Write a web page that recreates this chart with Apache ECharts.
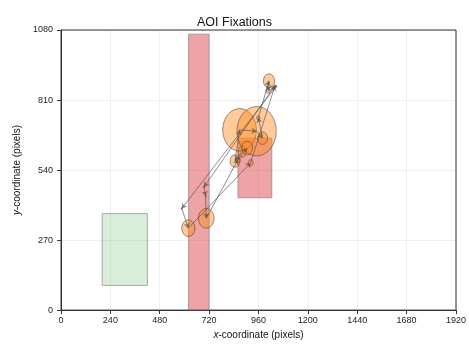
<!DOCTYPE html>
<html>
<head>
<meta charset="utf-8">
<script src="https://cdn.jsdelivr.net/npm/echarts@6/dist/echarts.min.js"></script>
<style>html,body{margin:0;padding:0;background:#fff}#c{width:469px;height:345px}</style>
</head>
<body>
<div id="c"></div>
<script>
// Tick labels
const xTicks = [0, 240, 480, 720, 960, 1200, 1440, 1680, 1920];
const yTicks = [0, 270, 540, 810, 1080];

// AOI rectangles (data coords)
const aoiX0 = [620, 200, 860];
const aoiX1 = [720, 420, 1025];
const aoiY0 = [0, 95, 433];
const aoiY1 = [1064, 372, 663];
const aoiKind = ['red', 'green', 'red'];

// Fixations (scanpath order): x, y, radius (data units)
const fixX = [880, 846, 868, 951, 980, 959, 1011, 1006, 1045, 587, 619, 922, 1040, 695, 703, 706, 860, 905];
const fixY = [610, 575, 695, 690, 663, 741, 884, 846, 862, 392, 316, 568, 865, 475, 440, 354, 580, 625];
const fixR = [20, 24, 82, 95, 24, 8, 27, 10, 4, 3, 32, 12, 4, 3, 3, 38, 10, 26];

const aoiColors = {
  red: {fill: 'rgba(214,39,40,0.42)', stroke: 'rgba(120,120,120,0.6)'},
  green: {fill: 'rgba(44,160,44,0.18)', stroke: 'rgba(120,120,120,0.6)'}
};

const aoiData = aoiX0.map((x0, i) => [x0, aoiY0[i], aoiX1[i], aoiY1[i], i]);
const fixData = fixX.map((x, i) => [x, fixY[i], fixR[i]]);
const segs = [];
for (let i = 0; i < fixX.length - 1; i++) {
  segs.push({coords: [[fixX[i], fixY[i]], [fixX[i + 1], fixY[i + 1]]]});
}

const chart = echarts.init(document.getElementById('c'));
chart.setOption({
  animation: false,
  title: {
    text: 'AOI Fixations', left: 'center', top: 11,
    textStyle: {fontSize: 12.5, fontWeight: 'normal', color: '#111', fontFamily: 'Liberation Sans'}
  },
  grid: {left: 61, right: 13, top: 30, bottom: 30, show: true, borderColor: '#333', borderWidth: 1},
  xAxis: {
    type: 'value', min: 0, max: 1920, interval: 240,
    name: '{i|x}-coordinate (pixels)', nameLocation: 'middle', nameGap: 19,
    nameTextStyle: {fontSize: 10, color: '#111', fontFamily: 'Liberation Sans', rich: {i: {fontStyle: 'italic', fontSize: 10, color: '#111', fontFamily: 'Liberation Sans'}}},
    axisLine: {show: true, lineStyle: {color: '#333'}},
    axisTick: {show: true, length: 4, lineStyle: {color: '#333'}},
    axisLabel: {fontSize: 9, color: '#222', margin: 6, fontFamily: 'Liberation Sans', formatter: v => xTicks.includes(v) ? String(v) : ''},
    splitLine: {show: true, lineStyle: {color: 'rgba(0,0,0,0.06)'}}
  },
  yAxis: {
    type: 'value', min: 0, max: 1080, interval: 270,
    name: '{i|y}-coordinate (pixels)', nameLocation: 'middle', nameGap: 35,
    nameTextStyle: {fontSize: 10, color: '#111', fontFamily: 'Liberation Sans', rich: {i: {fontStyle: 'italic', fontSize: 10, color: '#111', fontFamily: 'Liberation Sans'}}},
    axisLine: {show: true, lineStyle: {color: '#333'}},
    axisTick: {show: true, length: 4, lineStyle: {color: '#333'}},
    axisLabel: {fontSize: 9, color: '#222', margin: 8, fontFamily: 'Liberation Sans', formatter: v => yTicks.includes(v) ? String(v) : ''},
    splitLine: {show: true, lineStyle: {color: 'rgba(0,0,0,0.06)'}}
  },
  series: [
    {
      type: 'custom', data: aoiData, z: 1,
      renderItem(params, api) {
        const p0 = api.coord([api.value(0), api.value(1)]);
        const p1 = api.coord([api.value(2), api.value(3)]);
        const c = aoiColors[aoiKind[api.value(4)]];
        return {
          type: 'rect',
          shape: {x: p0[0], y: p1[1], width: p1[0] - p0[0], height: p0[1] - p1[1]},
          style: {fill: c.fill, stroke: c.stroke, lineWidth: 1}
        };
      }
    },
    {
      type: 'custom', data: fixData, z: 2,
      renderItem(params, api) {
        const c = api.coord([api.value(0), api.value(1)]);
        const s = api.size([api.value(2), api.value(2)]);
        return {
          type: 'ellipse',
          shape: {cx: c[0], cy: c[1], rx: s[0], ry: s[1]},
          style: {fill: 'rgba(255,140,30,0.45)', stroke: 'rgba(60,40,30,0.5)', lineWidth: 1}
        };
      }
    },
    {
      type: 'lines', coordinateSystem: 'cartesian2d', data: segs, z: 3,
      symbol: ['none', 'arrow'], symbolSize: 5,
      lineStyle: {color: 'rgba(80,80,80,0.8)', width: 1, opacity: 0.8}
    }
  ]
});
</script>
</body>
</html>
